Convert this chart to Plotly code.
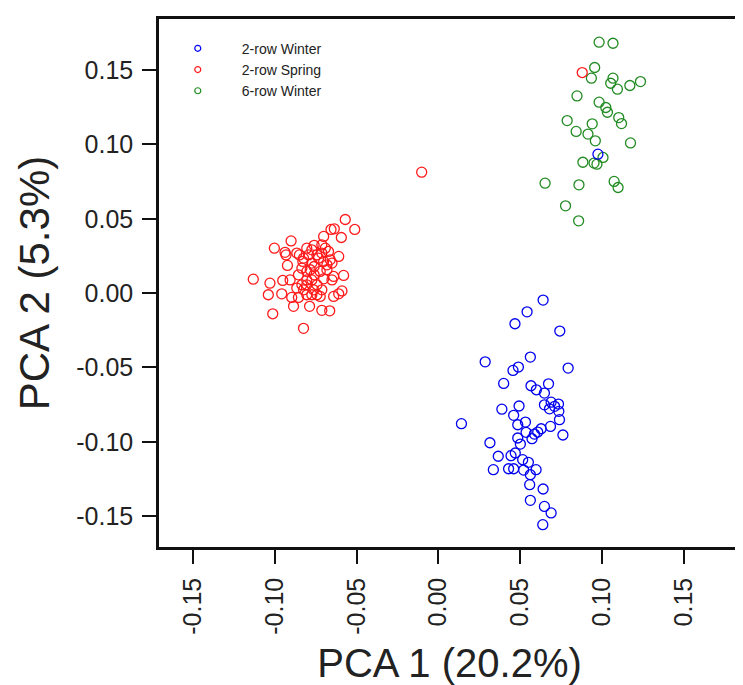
import plotly.graph_objects as go

# PCA scores, one pair of lists per group
winter2_x = [0.0640, 0.0542, 0.0468, 0.0742, 0.0286, 0.0562, 0.0456, 0.0489, 0.0793, 0.0399,
             0.0566, 0.0599, 0.0673, 0.0648, 0.0388, 0.0493, 0.0648, 0.0689, 0.0734, 0.0679,
             0.0710, 0.0736, 0.0460, 0.0740, 0.0141, 0.0485, 0.0532, 0.0685, 0.0628, 0.0536,
             0.0587, 0.0607, 0.0572, 0.0761, 0.0485, 0.0501, 0.0315, 0.0366, 0.0444, 0.0470,
             0.0515, 0.0550, 0.0336, 0.0429, 0.0460, 0.0521, 0.0597, 0.0562, 0.0558, 0.0640,
             0.0562, 0.0648, 0.0689, 0.0638, 0.0975]
winter2_y = [-0.0047, -0.0126, -0.0206, -0.0255, -0.0462, -0.0430, -0.0520, -0.0497, -0.0504, -0.0607,
             -0.0623, -0.0650, -0.0610, -0.0672, -0.0780, -0.0759, -0.0751, -0.0733, -0.0746, -0.0778,
             -0.0761, -0.0795, -0.0822, -0.0851, -0.0878, -0.0885, -0.0867, -0.0896, -0.0912, -0.0936,
             -0.0948, -0.0934, -0.0979, -0.0954, -0.0974, -0.1015, -0.1006, -0.1097, -0.1093, -0.1075,
             -0.1120, -0.1138, -0.1187, -0.1181, -0.1181, -0.1190, -0.1187, -0.1221, -0.1288, -0.1317,
             -0.1393, -0.1434, -0.1478, -0.1557, 0.0934]

spring2_x = [-0.0102, -0.0569, -0.0511, -0.0636, -0.0656, -0.0593, -0.0701, -0.0900, -0.1002, -0.0937,
             -0.0931, -0.0865, -0.0804, -0.0759, -0.0712, -0.0671, -0.0609, -0.0793, -0.0742, -0.0922,
             -0.0828, -0.0773, -0.0701, -0.0650, -0.0834, -0.0783, -0.0681, -0.0579, -0.0640, -0.1131,
             -0.1029, -0.0951, -0.0906, -0.0855, -0.0804, -0.0759, -0.0701, -0.0650, -0.0804, -0.0742,
             -0.1039, -0.0957, -0.0896, -0.0865, -0.0824, -0.0773, -0.0722, -0.0855, -0.0804, -0.0742,
             -0.0640, -0.0609, -0.0589, -0.0885, -0.0787, -0.0712, -0.0664, -0.1012, -0.0824, -0.0824,
             -0.0773, -0.0732, -0.0691, -0.0712, -0.0681, -0.0759, -0.0804, -0.0722, -0.0661, -0.0773,
             -0.0834, -0.0712, -0.0763, -0.0849, 0.0879]
spring2_y = [0.0813, 0.0495, 0.0428, 0.0432, 0.0428, 0.0374, 0.0381, 0.0351, 0.0302, 0.0274,
             0.0257, 0.0269, 0.0302, 0.0321, 0.0325, 0.0280, 0.0247, 0.0257, 0.0257, 0.0186,
             0.0213, 0.0202, 0.0213, 0.0202, 0.0168, 0.0157, 0.0157, 0.0119, 0.0112, 0.0094,
             0.0067, 0.0085, 0.0089, 0.0123, 0.0089, 0.0123, 0.0096, 0.0089, 0.0056, 0.0056,
             -0.0011, -0.0005, -0.0029, 0.0034, 0.0022, -0.0011, -0.0022, -0.0029, -0.0011, -0.0011,
             -0.0022, -0.0005, 0.0015, -0.0089, -0.0089, -0.0116, -0.0119, -0.0139, -0.0237, 0.0235,
             0.0291, 0.0235, 0.0302, 0.0269, 0.0190, 0.0179, 0.0146, 0.0146, 0.0224, 0.0089,
             0.0056, 0.0022, 0.0022, 0.0257, 0.1483]

winter6_x = [0.0982, 0.1067, 0.0955, 0.0935, 0.1067, 0.1053, 0.1094, 0.1170, 0.1235, 0.0847,
             0.0982, 0.1023, 0.1033, 0.1102, 0.1119, 0.0787, 0.0940, 0.0842, 0.0914, 0.0959,
             0.1174, 0.1006, 0.0883, 0.0951, 0.0969, 0.0652, 0.0859, 0.1074, 0.1098, 0.0777,
             0.0857]
winter6_y = [0.1687, 0.1680, 0.1517, 0.1445, 0.1445, 0.1411, 0.1371, 0.1396, 0.1422, 0.1326,
             0.1284, 0.1248, 0.1216, 0.1180, 0.1140, 0.1160, 0.1138, 0.1087, 0.1069, 0.1024,
             0.1010, 0.0912, 0.0880, 0.0874, 0.0867, 0.0739, 0.0728, 0.0751, 0.0710, 0.0587,
             0.0486]

groups = [
    ('6-row Winter', winter6_x, winter6_y, '#228B22'),
    ('2-row Winter', winter2_x, winter2_y, '#0000EE'),
    ('2-row Spring', spring2_x, spring2_y, '#FF1A1A'),
]
legend_order = ['2-row Winter', '2-row Spring', '6-row Winter']

font_family = 'Liberation Sans, Arial, Helvetica, sans-serif'
tick_vals = [-0.15, -0.10, -0.05, 0.00, 0.05, 0.10, 0.15]
tick_text = ['%.2f' % v for v in tick_vals]

fig = go.Figure()
for name, xs, ys, col in groups:
    fig.add_trace(go.Scatter(x=xs, y=ys, mode='markers', name=name, showlegend=False,
                             marker=dict(symbol='circle-open', size=10, color=col,
                                         line=dict(width=1.3, color=col))))

# small legend symbols, like the reference
for name in legend_order:
    col = next(g[3] for g in groups if g[0] == name)
    fig.add_trace(go.Scatter(x=[None], y=[None], mode='markers', name=name,
                             marker=dict(symbol='circle-open', size=6, color=col,
                                         line=dict(width=1.2, color=col))))

axis_common = dict(tickvals=tick_vals, ticktext=tick_text, ticks='outside', ticklen=14,
                   tickwidth=2, tickcolor='#111', showline=True, linewidth=2.5,
                   linecolor='#111', mirror=True, showgrid=False, zeroline=False,
                   automargin=False, ticklabelstandoff=4,
                   tickfont=dict(size=25, color='#222', family=font_family),
                   range=[-0.1707, 0.1843])

fig.update_layout(
    width=743, height=685,
    margin=dict(l=151, r=11, t=11, b=146),
    paper_bgcolor='white', plot_bgcolor='white',
    font=dict(family=font_family, color='#222'),
    xaxis=dict(axis_common, tickangle=-90,
               title=dict(text='PCA 1 (20.2%)', font=dict(size=40, family=font_family, color='#222'),
                          standoff=16)),
    yaxis=dict(axis_common,
               title=dict(text='PCA 2 (5.3%)', font=dict(size=42, family=font_family, color='#222'),
                          standoff=14)),
    legend=dict(x=-0.009, y=0.974, xanchor='left', yanchor='top', bgcolor='rgba(0,0,0,0)',
                font=dict(size=14, color='#222', family=font_family), itemwidth=78,
                tracegroupgap=0),
    showlegend=True,
)

fig.write_html('out.html')
